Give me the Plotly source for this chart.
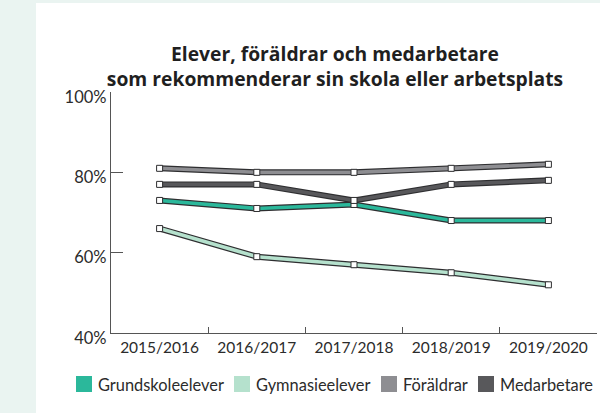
import plotly.graph_objects as go

years = ["2015/2016", "2016/2017", "2017/2018", "2018/2019", "2019/2020"]
grundskoleelever = [73, 71, 72, 68, 68]
gymnasieelever = [66, 59, 57, 55, 52]
foraldrar = [81, 80, 80, 81, 82]
medarbetare = [77, 77, 73, 77, 78]

y_tick_values = [40, 60, 80, 100]
y_tick_labels = ["40%", "60%", "80%", "100%"]

series_names = ["Grundskoleelever", "Gymnasieelever", "Föräldrar", "Medarbetare"]
series_values = [grundskoleelever, gymnasieelever, foraldrar, medarbetare]
series_colors = ["#2bb89b", "#b5e1cd", "#8e8e92", "#58585b"]

FONT = "Lato"
TITLE_FONT = "Open Sans"
OUTLINE = "#2e2e30"
TEXT = "#2b2b2b"

# layout geometry (pixels)
W, H = 600, 413
L, R, T, B = 111, 3, 92, 80
PW, PH = W - L - R, H - T - B


def px_x(px):
    return (px - L) / PW


def px_y(py):
    return (H - B - py) / PH


fig = go.Figure()

for name, vals, col in zip(series_names, series_values, series_colors):
    fig.add_trace(go.Scatter(x=years, y=vals, mode="lines",
                             line=dict(color=OUTLINE, width=6),
                             showlegend=False, hoverinfo="skip"))
    fig.add_trace(go.Scatter(x=years, y=vals, mode="lines+markers", name=name,
                             line=dict(color=col, width=3.6),
                             marker=dict(symbol="square", size=6, color="white",
                                         line=dict(color=OUTLINE, width=1)),
                             showlegend=False))

shapes = [dict(type="rect", xref="paper", yref="paper",
               x0=px_x(36), x1=px_x(W + 5), y0=px_y(H + 5), y1=px_y(3),
               fillcolor="white", line=dict(width=0), layer="below")]
annotations = []

# legend (square swatch + label), laid out in one row
legend_starts = [76, 234, 381, 478]
sq = 16
ly = 384
for name, col, x0 in zip(series_names, series_colors, legend_starts):
    shapes.append(dict(type="rect", xref="paper", yref="paper",
                       x0=px_x(x0), x1=px_x(x0 + sq),
                       y0=px_y(ly + sq / 2), y1=px_y(ly - sq / 2),
                       fillcolor=col, line=dict(width=0)))
    annotations.append(dict(text=name, xref="paper", yref="paper",
                            x=px_x(x0 + sq + 4), y=px_y(ly), xanchor="left",
                            yanchor="middle", showarrow=False,
                            font=dict(family=FONT, size=16.4, color=TEXT)))

fig.update_layout(
    width=W, height=H,
    margin=dict(l=L, r=R, t=T, b=B),
    paper_bgcolor="#eaf4f1",
    plot_bgcolor="white",
    font=dict(family=FONT, size=15, color=TEXT),
    title=dict(text="<b>Elever, föräldrar och medarbetare<br>som rekommenderar sin skola eller arbetsplats</b>",
               x=335 / W, xanchor="center", xref="container",
               y=1 - 61 / H, yanchor="middle", yref="container",
               font=dict(family=TITLE_FONT, size=19.3, color="#1f1f1f")),
    showlegend=False,
    shapes=shapes,
    annotations=annotations,
    xaxis=dict(type="category", categoryarray=years, range=[-0.5, 4.5],
               showline=True, linecolor="#555555", linewidth=1.3,
               ticks="inside", ticklen=6, tickcolor="#555555", tickson="boundaries",
               showgrid=False, zeroline=False, automargin=False,
               tickfont=dict(family=FONT, size=15.5, color=TEXT)),
    yaxis=dict(range=[40, 100], tickvals=y_tick_values, ticktext=y_tick_labels,
               showline=True, linecolor="#555555", linewidth=1.3,
               ticks="inside", ticklen=12, tickcolor="#555555",
               showgrid=False, zeroline=False, automargin=False, ticklabelshift=5,
               tickfont=dict(family=FONT, size=16.5, color=TEXT)),
)

fig.write_html("out.html",
               config={"displayModeBar": False},
               post_script="document.body.style.margin='0';document.body.style.overflow='hidden';")
